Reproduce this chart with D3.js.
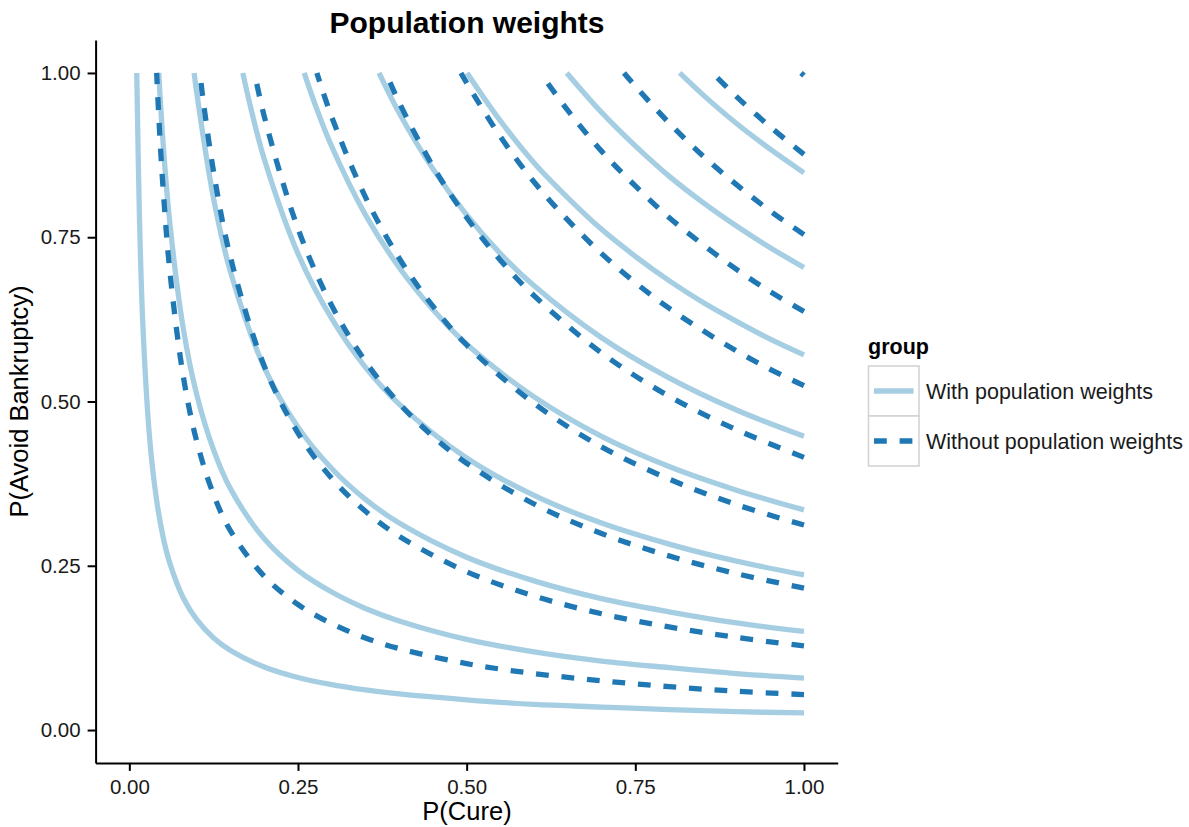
<!DOCTYPE html>
<html>
<head>
<meta charset="utf-8">
<script src="https://cdn.jsdelivr.net/npm/d3@7"></script>
<style>
  html, body { margin: 0; padding: 0; background: #fff; }
  svg { display: block; font-family: "Liberation Sans", Arial, Helvetica, sans-serif; }
</style>
</head>
<body>
<svg id="chart" width="1189" height="827"></svg>
<script>
// ---- data ----
const groups = ["With population weights", "Without population weights"];
const xTicks = [0, 0.25, 0.5, 0.75, 1];
const yTicks = [0, 0.25, 0.5, 0.75, 1];

// iso-curves, "With population weights": [P(Cure), P(Avoid Bankruptcy)]
const withCurves = [
  [[0.011,1],[0.015,0.781],[0.02,0.618],[0.03,0.445],[0.04,0.353],[0.05,0.294],[0.06,0.254],[0.08,0.201],[0.1,0.168],[0.125,0.14],[0.15,0.121],[0.2,0.096],[0.25,0.08],[0.3,0.069],[0.35,0.061],[0.4,0.055],[0.5,0.046],[0.6,0.039],[0.7,0.035],[0.8,0.031],[0.9,0.028],[1,0.026]],
  [[0.0436,1],[0.05,0.894],[0.06,0.772],[0.08,0.611],[0.1,0.51],[0.125,0.426],[0.15,0.367],[0.2,0.291],[0.25,0.243],[0.3,0.21],[0.35,0.185],[0.4,0.166],[0.5,0.138],[0.6,0.119],[0.7,0.105],[0.8,0.095],[0.9,0.086],[1,0.079]],
  [[0.0961,1],[0.1,0.969],[0.125,0.808],[0.15,0.697],[0.2,0.552],[0.25,0.461],[0.3,0.398],[0.35,0.351],[0.4,0.315],[0.5,0.263],[0.6,0.227],[0.7,0.2],[0.8,0.18],[0.9,0.163],[1,0.15]],
  [[0.1682,1],[0.18,0.947],[0.2,0.869],[0.25,0.725],[0.3,0.626],[0.35,0.552],[0.4,0.496],[0.5,0.414],[0.6,0.357],[0.7,0.315],[0.8,0.283],[0.9,0.257],[1,0.236]],
  [[0.2592,1],[0.275,0.953],[0.3,0.888],[0.35,0.784],[0.4,0.704],[0.45,0.64],[0.5,0.587],[0.6,0.507],[0.7,0.447],[0.8,0.401],[0.9,0.365],[1,0.335]],
  [[0.3701,1],[0.4,0.939],[0.45,0.854],[0.5,0.784],[0.55,0.725],[0.6,0.676],[0.7,0.597],[0.8,0.536],[0.9,0.487],[1,0.447]],
  [[0.5006,1],[0.55,0.927],[0.6,0.863],[0.65,0.81],[0.7,0.762],[0.75,0.721],[0.8,0.684],[0.85,0.651],[0.9,0.622],[0.95,0.595],[1,0.571]],
  [[0.6484,1],[0.7,0.94],[0.75,0.889],[0.8,0.843],[0.85,0.803],[0.9,0.767],[0.95,0.734],[1,0.704]],
  [[0.8158,1],[0.85,0.967],[0.9,0.923],[0.95,0.884],[1,0.848]]
];

// iso-curves, "Without population weights"
const withoutCurves = [
  [[0.0405,1],[0.045,0.908],[0.05,0.825],[0.06,0.699],[0.08,0.538],[0.1,0.439],[0.125,0.358],[0.15,0.303],[0.2,0.234],[0.25,0.191],[0.3,0.162],[0.35,0.14],[0.4,0.124],[0.5,0.101],[0.6,0.086],[0.7,0.075],[0.8,0.066],[0.9,0.059],[1,0.054]],
  [[0.1045,1],[0.11,0.954],[0.125,0.849],[0.15,0.719],[0.2,0.554],[0.25,0.452],[0.3,0.383],[0.35,0.333],[0.4,0.295],[0.5,0.241],[0.6,0.204],[0.7,0.177],[0.8,0.157],[0.9,0.141],[1,0.128]],
  [[0.1856,1],[0.2,0.934],[0.25,0.763],[0.3,0.646],[0.35,0.561],[0.4,0.497],[0.45,0.447],[0.5,0.406],[0.6,0.344],[0.7,0.299],[0.8,0.265],[0.9,0.238],[1,0.216]],
  [[0.278,1],[0.3,0.933],[0.35,0.811],[0.4,0.718],[0.45,0.645],[0.5,0.586],[0.6,0.497],[0.7,0.431],[0.8,0.382],[0.9,0.343],[1,0.312]],
  [[0.3804,1],[0.4,0.955],[0.45,0.858],[0.5,0.78],[0.55,0.715],[0.6,0.661],[0.7,0.574],[0.8,0.508],[0.9,0.457],[1,0.415]],
  [[0.4915,1],[0.5,0.985],[0.55,0.903],[0.6,0.834],[0.65,0.776],[0.7,0.725],[0.75,0.681],[0.8,0.642],[0.85,0.608],[0.9,0.577],[0.95,0.549],[1,0.524]],
  [[0.6092,1],[0.65,0.943],[0.7,0.881],[0.75,0.828],[0.8,0.78],[0.85,0.739],[0.9,0.701],[0.95,0.667],[1,0.637]],
  [[0.7332,1],[0.75,0.98],[0.8,0.924],[0.85,0.874],[0.9,0.83],[0.95,0.79],[1,0.754]],
  [[0.8646,1],[0.9,0.964],[0.95,0.918],[1,0.876]],
  [[0.9956,1],[1,0.996]]
];

// ---- chart ----
const svg = d3.select("#chart");
const colors = { with: "#a6cee3", without: "#1f78b4" };
const lineW = 5.3;
const dash = "12.8,12.8";

const x = d3.scaleLinear().domain([-0.05, 1.05]).range([95.6, 837.7]);
const y = d3.scaleLinear().domain([-0.05, 1.05]).range([762.9, 40.1]);

const line = d3.line()
  .x(d => x(d[0]))
  .y(d => y(d[1]))
  .curve(d3.curveCatmullRom.alpha(0.5));

// paths are drawn from the P(Cure)=1 end towards the top
const gLines = svg.append("g");
gLines.selectAll("path.with")
  .data(withCurves)
  .join("path")
  .attr("class", "with")
  .attr("d", d => line(d.slice().reverse()))
  .attr("fill", "none")
  .attr("stroke", colors.with)
  .attr("stroke-width", lineW)
  .attr("stroke-linecap", "butt");

gLines.selectAll("path.without")
  .data(withoutCurves)
  .join("path")
  .attr("class", "without")
  .attr("d", d => line(d.slice().reverse()))
  .attr("fill", "none")
  .attr("stroke", colors.without)
  .attr("stroke-width", lineW)
  .attr("stroke-dasharray", dash)
  .attr("stroke-linecap", "butt");

// axes
const fmt = d3.format(".2f");
const xAxis = svg.append("g")
  .attr("transform", `translate(0,${y(-0.05)})`)
  .call(d3.axisBottom(x).tickValues(xTicks).tickFormat(fmt).tickSize(8).tickPadding(9).tickSizeOuter(0));
const yAxis = svg.append("g")
  .attr("transform", `translate(${x(-0.05)},0)`)
  .call(d3.axisLeft(y).tickValues(yTicks).tickFormat(fmt).tickSize(8).tickPadding(7).tickSizeOuter(0));

[xAxis, yAxis].forEach(g => {
  g.select(".domain").attr("stroke", "#000").attr("stroke-width", 2);
  g.selectAll(".tick line").attr("stroke", "#000").attr("stroke-width", 2);
  g.selectAll(".tick text").attr("fill", "#1a1a1a")
    .style("font-size", "20.5px")
    .style("font-family", '"Liberation Sans", Arial, sans-serif');
});

// titles
svg.append("text")
  .attr("x", 467).attr("y", 33)
  .attr("text-anchor", "middle")
  .style("font-size", "30px").style("font-weight", "bold")
  .attr("fill", "#000")
  .text("Population weights");

svg.append("text")
  .attr("x", 467).attr("y", 820)
  .attr("text-anchor", "middle")
  .style("font-size", "25.5px")
  .attr("fill", "#000")
  .text("P(Cure)");

svg.append("text")
  .attr("transform", `translate(28,${y(0.5)}) rotate(-90)`)
  .attr("text-anchor", "middle")
  .style("font-size", "25.5px")
  .attr("fill", "#000")
  .text("P(Avoid Bankruptcy)");

// legend
const leg = svg.append("g").attr("transform", "translate(868,0)");
leg.append("text")
  .attr("x", 0).attr("y", 354)
  .style("font-size", "21.5px").style("font-weight", "bold")
  .attr("fill", "#000")
  .text("group");

const keyH = 50, keyW = 50.5, keyTop = 366;
groups.forEach((g, i) => {
  const top = keyTop + i * keyH;
  leg.append("rect")
    .attr("x", 0.5).attr("y", top)
    .attr("width", keyW).attr("height", keyH)
    .attr("fill", "#fff")
    .attr("stroke", "#d4d4d4")
    .attr("stroke-width", 1.6);
  leg.append("line")
    .attr("x1", 6).attr("x2", 45.5)
    .attr("y1", top + keyH / 2).attr("y2", top + keyH / 2)
    .attr("stroke", i === 0 ? colors.with : colors.without)
    .attr("stroke-width", lineW)
    .attr("stroke-dasharray", i === 0 ? null : dash);
  leg.append("text")
    .attr("x", 58).attr("y", top + keyH / 2 + 7.5)
    .style("font-size", "21.5px")
    .attr("fill", "#1a1a1a")
    .text(g);
});
</script>
</body>
</html>
